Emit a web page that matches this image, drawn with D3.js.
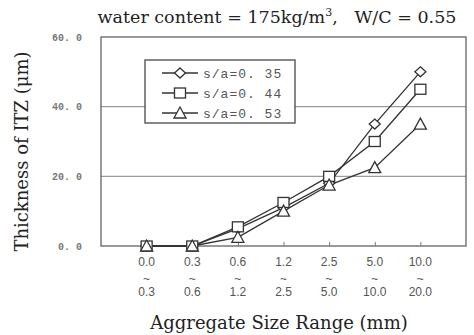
<!DOCTYPE html>
<html>
<head>
<meta charset="utf-8">
<script src="https://cdn.jsdelivr.net/npm/d3@7"></script>
<style>
  body { margin: 0; background: #fff; }
</style>
</head>
<body>
<div id="chart"></div>
<script>
const categories = ["0.0~0.3", "0.3~0.6", "0.6~1.2", "1.2~2.5", "2.5~5.0", "5.0~10.0", "10.0~20.0"]
const sa035 = [0, 0, 5, 11, 18, 35, 50]
const sa044 = [0, 0, 5.5, 12.5, 20, 30, 45]
const sa053 = [0, 0, 2.5, 10, 17.5, 22.5, 35]
const yTicks = [0, 20, 40, 60]

const series = [
    {name: "s/a=0. 35", values: sa035, symbol: "diamond"},
    {name: "s/a=0. 44", values: sa044, symbol: "square"},
    {name: "s/a=0. 53", values: sa053, symbol: "triangle"},
]

const width = 474, height = 335
const marginTop = 37, marginRight = 8, marginBottom = 89, marginLeft = 101
const serif = "'DejaVu Serif', 'Liberation Serif', serif"

const x = d3.scalePoint(categories, [marginLeft, width - marginRight]).padding(1)
const y = d3.scaleLinear([0, 60], [height - marginBottom, marginTop])

const svg = d3.select("#chart").append("svg")
    .attr("width", width)
    .attr("height", height)
    .attr("viewBox", [0, 0, width, height])

// marker shapes
function marker(g, type, cx, cy) {
    if (type === "diamond") {
        g.append("path")
            .attr("d", `M${cx},${cy - 5}L${cx + 5.5},${cy}L${cx},${cy + 5}L${cx - 5.5},${cy}Z`)
    } else if (type === "square") {
        g.append("rect").attr("x", cx - 5.5).attr("y", cy - 5).attr("width", 11).attr("height", 10)
    } else {
        g.append("path")
            .attr("d", `M${cx},${cy - 6}L${cx + 6},${cy + 5}L${cx - 6},${cy + 5}Z`)
    }
}

// gridlines
svg.append("g")
    .selectAll("line")
    .data(yTicks.filter(d => d > 0 && d < 60))
    .join("line")
    .attr("x1", marginLeft)
    .attr("x2", width - marginRight)
    .attr("y1", d => y(d))
    .attr("y2", d => y(d))
    .attr("stroke", "#9a9a9a")
    .attr("stroke-width", 1.2)

// frame
svg.append("rect")
    .attr("x", marginLeft)
    .attr("y", marginTop)
    .attr("width", width - marginRight - marginLeft)
    .attr("height", height - marginBottom - marginTop)
    .attr("fill", "none")
    .attr("stroke", "#555")
    .attr("stroke-width", 1.2)

// y axis labels
svg.append("g")
    .selectAll("text")
    .data(yTicks)
    .join("text")
    .attr("x", 82)
    .attr("y", d => y(d) + 3.5)
    .attr("text-anchor", "end")
    .attr("fill", "#777")
    .style("font", "bold 10px 'Liberation Mono', monospace")
    .text(d => d.toFixed(1).replace(".", ". "))

// x axis ticks (inside) and two-line labels
svg.append("g")
    .attr("transform", `translate(0,${y(0)})`)
    .call(d3.axisTop(x).tickSize(4).tickFormat(""))
    .call(g => g.select(".domain").remove())
    .call(g => g.selectAll(".tick line").attr("stroke", "#777"))

const xl = svg.append("g")
    .selectAll("text")
    .data(categories)
    .join("text")
    .attr("text-anchor", "middle")
    .attr("fill", "#555")
    .style("font", "12px 'Liberation Sans', Arial, sans-serif")
xl.append("tspan").attr("x", d => x(d)).attr("y", 266).text(d => d.split("~")[0])
xl.append("tspan").attr("x", d => x(d)).attr("y", 283).text("~")
xl.append("tspan").attr("x", d => x(d)).attr("y", 296).text(d => d.split("~")[1])

// lines and markers
const line = d3.line()
    .x((d, i) => x(categories[i]))
    .y(d => y(d))

for (const s of series) {
    svg.append("path")
        .datum(s.values)
        .attr("d", line)
        .attr("fill", "none")
        .attr("stroke", "#333")
        .attr("stroke-width", 1.3)
}
for (const s of series) {
    const g = svg.append("g")
        .attr("fill", "#fff")
        .attr("stroke", "#333")
        .attr("stroke-width", 1.3)
    s.values.forEach((v, i) => marker(g, s.symbol, x(categories[i]), y(v)))
}

// legend
const lx = 145, ly = 60, lw = 150, lh = 63
svg.append("rect")
    .attr("x", lx).attr("y", ly)
    .attr("width", lw).attr("height", lh)
    .attr("fill", "#fff")
    .attr("stroke", "#555")
    .attr("stroke-width", 1.4)

series.forEach((s, i) => {
    const cy = ly + 13 + i * 20
    const g = svg.append("g")
        .attr("fill", "#fff")
        .attr("stroke", "#333")
        .attr("stroke-width", 1.3)
    g.append("line").attr("x1", lx + 17).attr("x2", lx + 53).attr("y1", cy).attr("y2", cy)
    marker(g, s.symbol, lx + 35, cy)
    svg.append("text")
        .attr("x", lx + 58)
        .attr("y", cy + 4.5)
        .attr("fill", "#555")
        .style("font", "13px 'Liberation Mono', monospace")
        .style("letter-spacing", "1px")
        .text(s.name)
})

// title
const title = svg.append("text")
    .attr("x", 277)
    .attr("y", 23)
    .attr("text-anchor", "middle")
    .attr("fill", "#222")
    .style("font", `17.5px ${serif}`)
title.append("tspan").text("water content = 175kg/m")
title.append("tspan").attr("dy", -7).style("font-size", "11px").text("3")
title.append("tspan").attr("dy", 7).attr("xml:space", "preserve").text(",   W/C = 0.55")

// y label
svg.append("text")
    .attr("transform", `translate(28,${(marginTop + y(0)) / 2 + 10}) rotate(-90)`)
    .attr("text-anchor", "middle")
    .attr("fill", "#222")
    .style("font", `18px ${serif}`)
    .text("Thickness of ITZ (μm)")

// x label
svg.append("text")
    .attr("x", 279)
    .attr("y", 329)
    .attr("text-anchor", "middle")
    .attr("fill", "#222")
    .style("font", `18px ${serif}`)
    .text("Aggregate Size Range (mm)")
</script>
</body>
</html>
